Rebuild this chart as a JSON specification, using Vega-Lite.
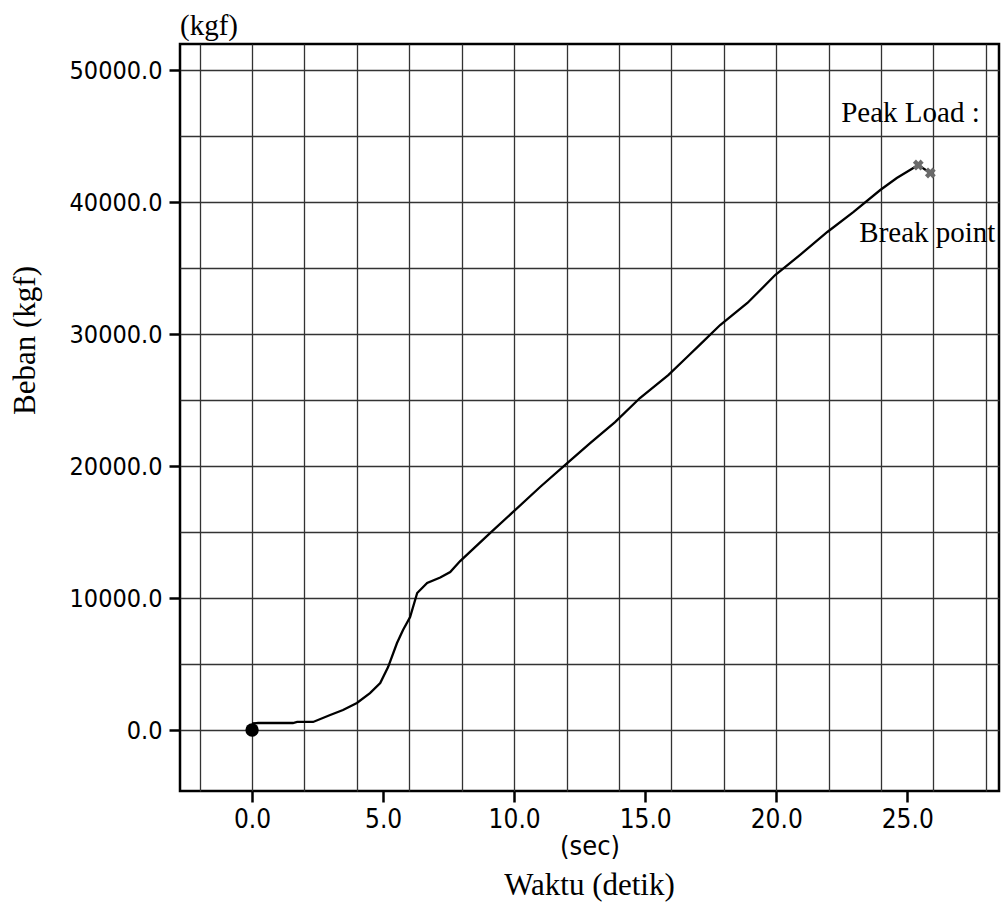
{
  "$schema": "https://vega.github.io/schema/vega-lite/v6.json",
  "width": 819,
  "height": 747,
  "autosize": {"type": "none"},
  "padding": {"left": 180, "top": 44, "right": 2, "bottom": 126},
  "background": "white",
  "title": {
    "text": "Waktu (detik)",
    "orient": "bottom",
    "anchor": "middle",
    "font": "Liberation Serif",
    "fontSize": 31,
    "fontWeight": "normal",
    "color": "black",
    "offset": 12
  },
  "datasets": {
    "curve": [
      {"t": 0, "load": 500},
      {"t": 0.23, "load": 530},
      {"t": 1.56, "load": 530},
      {"t": 1.72, "load": 610},
      {"t": 2.33, "load": 610},
      {"t": 2.98, "load": 1140},
      {"t": 3.47, "load": 1520},
      {"t": 4.0, "load": 2050},
      {"t": 4.5, "load": 2800},
      {"t": 4.89, "load": 3560},
      {"t": 5.19, "load": 4770},
      {"t": 5.53, "load": 6590},
      {"t": 5.76, "load": 7580},
      {"t": 6.03, "load": 8560},
      {"t": 6.3, "load": 10380},
      {"t": 6.68, "load": 11140},
      {"t": 7.18, "load": 11550},
      {"t": 7.56, "load": 11970},
      {"t": 7.94, "load": 12800},
      {"t": 9.08, "load": 14920},
      {"t": 9.96, "load": 16520},
      {"t": 10.99, "load": 18410},
      {"t": 11.95, "load": 20080},
      {"t": 12.9, "load": 21740},
      {"t": 13.85, "load": 23330},
      {"t": 14.8, "load": 25150},
      {"t": 15.88, "load": 26890},
      {"t": 16.6, "load": 28260},
      {"t": 17.1, "load": 29220},
      {"t": 17.86, "load": 30680},
      {"t": 18.9, "load": 32350},
      {"t": 19.96, "load": 34470},
      {"t": 20.9, "load": 35980},
      {"t": 21.95, "load": 37730},
      {"t": 22.94, "load": 39240},
      {"t": 23.97, "load": 40910},
      {"t": 24.6, "load": 41820},
      {"t": 25.23, "load": 42580},
      {"t": 25.42, "load": 42800},
      {"t": 25.88, "load": 42200}
    ],
    "start": [{"t": 0, "load": 0}],
    "events": [
      {"event": "Peak", "t": 25.42, "load": 42800},
      {"event": "Break", "t": 25.88, "load": 42200}
    ],
    "notes": [
      {"label": "Peak Load :", "t": 22.48, "load": 46060},
      {"label": "Break point", "t": 23.17, "load": 36970}
    ],
    "unit": [{"label": "(kgf)", "t": -2.75, "load": 52650}]
  },
  "layer": [
    {
      "data": {"name": "curve"},
      "mark": {"type": "line", "color": "black", "strokeWidth": 2.3, "clip": true},
      "encoding": {
        "x": {
          "field": "t",
          "type": "quantitative",
          "scale": {"domain": [-2.75, 28.5], "nice": false, "zero": false},
          "axis": {
            "values": [-2, 0, 2, 4, 5, 6, 8, 10, 12, 14, 15, 16, 18, 20, 22, 24, 25, 26, 28],
            "labelExpr": "datum.value % 5 === 0 ? format(datum.value, '.1f') : ''",
            "labelOverlap": false,
            "labelFont": "'DejaVu Sans Condensed', 'Roboto Condensed', Roboto, sans-serif",
            "labelFontSize": 26,
            "labelColor": "black",
            "labelPadding": 4,
            "domain": false,
            "tickColor": "black",
            "tickWidth": 2.5,
            "tickSize": 11,
            "tickOpacity": {"condition": {"test": "datum.value % 5 !== 0", "value": 0}, "value": 1},
            "grid": true,
            "gridColor": "#333",
            "gridWidth": 1.3,
            "gridOpacity": {"condition": {"test": "datum.value % 2 !== 0", "value": 0}, "value": 1},
            "title": "(sec)",
            "titleFont": "'DejaVu Sans Condensed', 'Roboto Condensed', Roboto, sans-serif",
            "titleFontSize": 27,
            "titleFontWeight": "normal",
            "titleColor": "black",
            "titleBaseline": "alphabetic",
            "titleY": 63
          }
        },
        "y": {
          "field": "load",
          "type": "quantitative",
          "scale": {"domain": [-4620, 51970], "nice": false, "zero": false},
          "axis": {
            "values": [0, 5000, 10000, 15000, 20000, 25000, 30000, 35000, 40000, 45000, 50000],
            "labelExpr": "datum.value % 10000 === 0 ? format(datum.value, '.1f') : ''",
            "labelOverlap": false,
            "labelFont": "'DejaVu Sans Condensed', 'Roboto Condensed', Roboto, sans-serif",
            "labelFontSize": 25,
            "labelColor": "black",
            "labelPadding": 7,
            "domain": false,
            "tickColor": "black",
            "tickWidth": 2.5,
            "tickSize": 11,
            "tickOpacity": {"condition": {"test": "datum.value % 10000 !== 0", "value": 0}, "value": 1},
            "grid": true,
            "gridColor": "#333",
            "gridWidth": 1.3,
            "title": "Beban (kgf)",
            "titleFont": "Liberation Serif",
            "titleFontSize": 31,
            "titleFontWeight": "normal",
            "titleColor": "black",
            "titleAngle": -90,
            "titleAlign": "center",
            "titleBaseline": "middle",
            "titleX": -155,
            "titleY": 296
          }
        }
      }
    },
    {
      "data": {"name": "start"},
      "mark": {"type": "point", "shape": "circle", "filled": true, "color": "black", "size": 180, "opacity": 1},
      "encoding": {
        "x": {"field": "t", "type": "quantitative"},
        "y": {"field": "load", "type": "quantitative"}
      }
    },
    {
      "data": {"name": "events"},
      "mark": {"type": "point", "shape": "cross", "angle": 45, "filled": true, "color": "#6a6a6a", "size": 120, "opacity": 1},
      "encoding": {
        "x": {"field": "t", "type": "quantitative"},
        "y": {"field": "load", "type": "quantitative"}
      }
    },
    {
      "data": {"name": "notes"},
      "mark": {"type": "text", "align": "left", "baseline": "alphabetic", "font": "Liberation Serif", "fontSize": 29, "color": "black", "clip": true},
      "encoding": {
        "x": {"field": "t", "type": "quantitative"},
        "y": {"field": "load", "type": "quantitative"},
        "text": {"field": "label"}
      }
    },
    {
      "data": {"name": "unit"},
      "mark": {"type": "text", "align": "left", "baseline": "alphabetic", "font": "Liberation Serif", "fontSize": 29, "color": "black", "clip": false},
      "encoding": {
        "x": {"field": "t", "type": "quantitative"},
        "y": {"field": "load", "type": "quantitative"},
        "text": {"field": "label"}
      }
    }
  ],
  "config": {
    "view": {"stroke": "black", "strokeWidth": 2.5},
    "axis": {"labelFontWeight": "normal"}
  }
}
